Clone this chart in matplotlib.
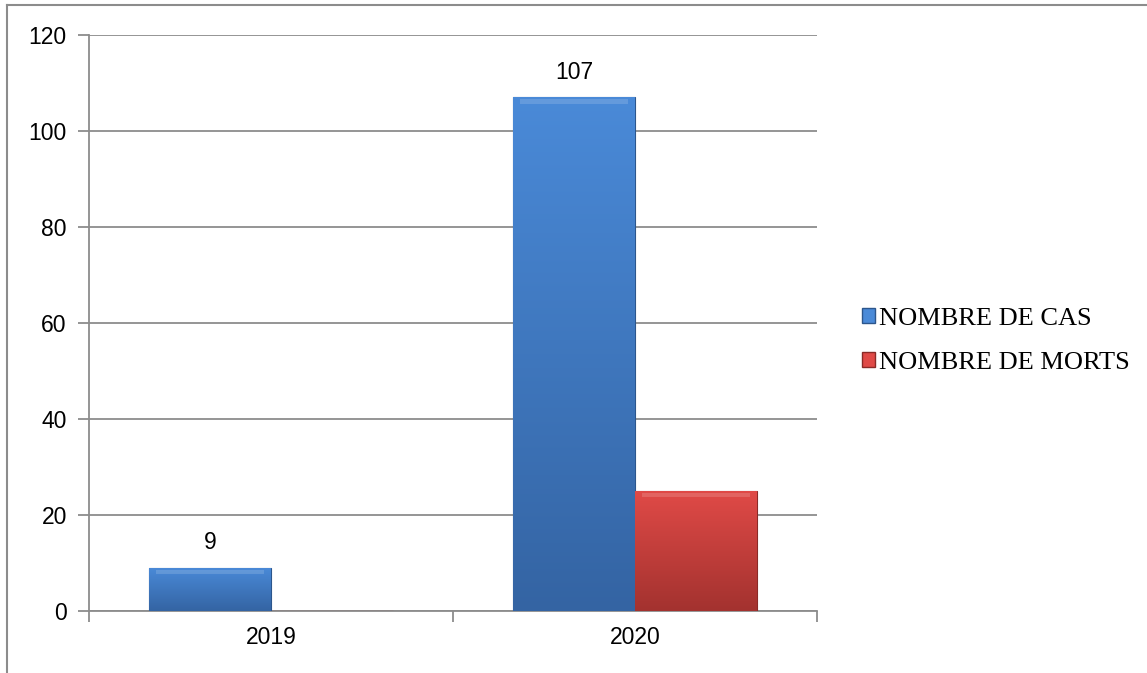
import numpy as np
import matplotlib
matplotlib.use("Agg")
import matplotlib.pyplot as plt
from matplotlib.lines import Line2D
from matplotlib.patches import Rectangle
from matplotlib.colors import LinearSegmentedColormap

# --- données ---
years = ["2019", "2020"]
cas = [9, 107]
morts = [0, 25]
series_names = ["NOMBRE DE CAS", "NOMBRE DE MORTS"]

W, H = 1147, 673
fig = plt.figure(figsize=(W / 100, H / 100), dpi=100)
ax = fig.add_axes([89 / W, 1 - 611 / H, (817 - 89) / W, (611 - 35) / H])

grid_col = "#8c8c8c"
blue_top, blue_bot = "#4a8ad8", "#3464a3"
red_top, red_bot = "#e04a47", "#a3322f"

x = np.arange(len(years))
width = 122 / 364


def gradient_bars(bars, top, bot):
    cmap = LinearSegmentedColormap.from_list("g", [bot, top])
    grad = np.linspace(0, 1, 256).reshape(-1, 1)
    for b in bars:
        h = b.get_height()
        if h <= 0:
            continue
        x0 = b.get_x()
        w = b.get_width()
        im = ax.imshow(grad, cmap=cmap, origin="lower", aspect="auto",
                       extent=[x0, x0 + w, 0, h], zorder=3)
        im.set_clip_path(b)
        # petit liseré clair en haut (effet biseau)
        ax.add_patch(Rectangle((x0 + w * 0.06, h - 1.3), w * 0.88, 0.9,
                               facecolor="white", alpha=0.15, lw=0, zorder=4))


b1 = ax.bar(x - width / 2, cas, width, color=blue_top, edgecolor="#2c568c",
            linewidth=0.8, zorder=3)
b2 = ax.bar(x + width / 2, morts, width, color=red_top, edgecolor="#8a2a27",
            linewidth=0.8, zorder=3)
gradient_bars(b1, blue_top, blue_bot)
gradient_bars(b2, red_top, red_bot)

# étiquettes de valeur (seulement pour les cas, comme dans l'original)
for b, v in zip(b1, cas):
    ax.annotate(str(v), (b.get_x() + b.get_width() / 2, v),
                xytext=(0, 18), textcoords="offset points",
                ha="center", va="center", fontsize=16.5,
                family="Liberation Sans", zorder=5)

ax.set_xlim(-0.5, 1.5)
ax.set_ylim(0, 120)
ax.set_yticks(range(0, 121, 20))
ax.set_xticks([-0.5, 0.5, 1.5], minor=False)
ax.set_xticklabels([])
ax.set_xticks(x, minor=True)
ax.set_xticklabels(years, minor=True)
ax.tick_params(axis="x", which="minor", length=0, pad=11, labelsize=16.5)
ax.tick_params(axis="x", which="major", length=8, color=grid_col, width=1.3)
ax.tick_params(axis="y", length=8, color=grid_col, width=1.3, labelsize=16.5,
               pad=8)
for lab in ax.get_xticklabels(minor=True) + ax.get_yticklabels():
    lab.set_family("Liberation Sans")

ax.grid(axis="y", color=grid_col, linewidth=1.3, zorder=0)
for s in ["top", "right"]:
    ax.spines[s].set_visible(False)
for s in ["left", "bottom"]:
    ax.spines[s].set_color(grid_col)
    ax.spines[s].set_linewidth(1.3)

# légende
handles = [Rectangle((0, 0), 1, 1, facecolor=blue_top, edgecolor="#2c568c"),
           Rectangle((0, 0), 1, 1, facecolor=red_top, edgecolor="#8a2a27")]
fig.legend(handles, series_names, loc="center left",
           bbox_to_anchor=(851 / W, 1 - 341 / H), frameon=False,
           prop={"family": "Liberation Serif", "size": 19},
           handlelength=0.5, handleheight=0.5, handletextpad=0.15,
           labelspacing=0.85, borderaxespad=0)

# cadre extérieur (haut et gauche)
fig.add_artist(Line2D([7 / W, 1], [1 - 5 / H, 1 - 5 / H], color="#8c8c8c",
                      lw=1.5, transform=fig.transFigure))
fig.add_artist(Line2D([7 / W, 7 / W], [0, 1 - 5 / H], color="#8c8c8c",
                      lw=1.5, transform=fig.transFigure))

fig.savefig("out.png", dpi=100)
